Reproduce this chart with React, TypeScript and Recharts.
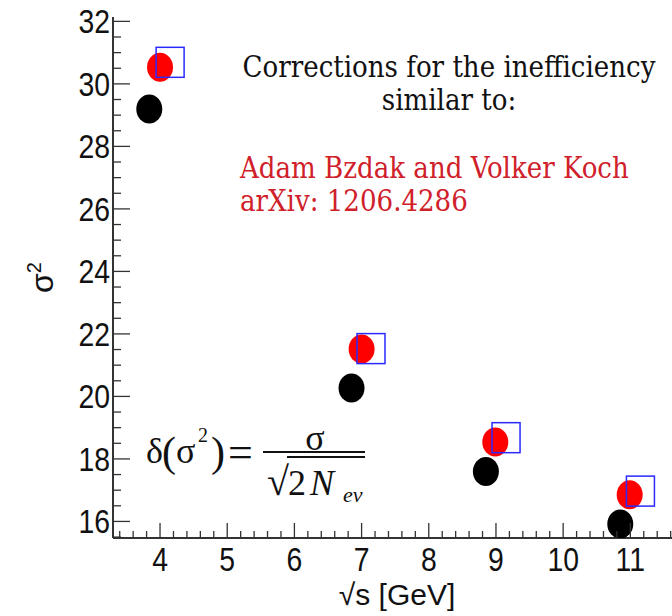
import { Scatter, ScatterChart, XAxis, YAxis } from 'recharts'

// sqrt(s) positions (slightly shifted per series, as in the plot)
const blackX = [3.84, 6.85, 8.85, 10.85]
const blackY = [29.2, 20.27, 17.6, 15.92]
const redX = [4.0, 7.0, 8.99, 10.99]
const redY = [30.53, 21.52, 18.54, 16.85]
const blueX = [4.15, 7.14, 9.15, 11.15]
const blueY = [30.69, 21.53, 18.68, 16.97]

const xMajor = [4, 5, 6, 7, 8, 9, 10, 11]
const yMajor = [16, 18, 20, 22, 24, 26, 28, 30, 32]

const X_DOMAIN: [number, number] = [3.3, 11.62]
const Y_DOMAIN: [number, number] = [15.47, 32.14]

const AXIS = '#333'
const SANS = "'Liberation Sans', Arial, sans-serif"
const SERIF_C = "'DejaVu Serif Condensed', 'DejaVu Serif', serif"
const TIMES = "'Liberation Serif', 'Times New Roman', serif"

const toPts = (xs: number[], ys: number[]) => xs.map((x, i) => ({ x, y: ys[i] }))
const black = toPts(blackX, blackY)
const red = toPts(redX, redY)
const blue = toPts(blueX, blueY)

const steps = (from: number, to: number, step: number) => {
  const out: number[] = []
  for (let v = from; v <= to + 1e-9; v += step) out.push(Math.round(v * 10) / 10)
  return out
}
const xTicks = steps(3.4, 11.6, 0.2)
const yTicks = steps(15.5, 32, 0.5)

const isMajor = (list: number[], v: number) => list.some((m) => Math.abs(m - v) < 1e-6)

function XTick(props: any) {
  const { x, y, payload } = props
  const major = isMajor(xMajor, payload.value)
  return (
    <g>
      <line x1={x} x2={x} y1={y} y2={y - (major ? 15 : 7)} stroke={AXIS} strokeWidth={1.3} />
      {major && (
        <text
          transform={`translate(${x},${y + 33}) scale(0.86,1)`}
          textAnchor="middle"
          fontFamily={SANS}
          fontSize={33}
          fill="#111"
        >
          {payload.value}
        </text>
      )}
    </g>
  )
}

function YTick(props: any) {
  const { x, y, payload } = props
  const major = isMajor(yMajor, payload.value)
  return (
    <g>
      <line x1={x} x2={x + (major ? 17 : 8)} y1={y} y2={y} stroke={AXIS} strokeWidth={1.3} />
      {major && (
        <text
          transform={`translate(${x - 3},${y + 12}) scale(0.86,1)`}
          textAnchor="end"
          fontFamily={SANS}
          fontSize={33}
          fill="#111"
        >
          {payload.value}
        </text>
      )}
    </g>
  )
}

const dot = (fill: string) => (p: any) => <ellipse cx={p.cx} cy={p.cy} rx={13} ry={14.5} fill={fill} />
const box = (p: any) => (
  <rect x={p.cx - 14} y={p.cy - 15} width={28} height={30} fill="none" stroke="#2a2aff" strokeWidth={1.5} />
)

export default function App() {
  return (
    <div style={{ position: 'absolute', left: 0, top: 0, width: 672, height: 616, background: '#fff' }}>
      <ScatterChart width={672} height={616} margin={{ top: 17, right: 0, bottom: 0, left: 0 }}>
        <XAxis
          xAxisId="b"
          type="number"
          dataKey="x"
          domain={X_DOMAIN}
          ticks={xTicks}
          interval={0}
          allowDataOverflow
          height={78}
          tickSize={0}
          tickMargin={0}
          tickLine={false}
          tick={<XTick />}
          axisLine={{ stroke: AXIS, strokeWidth: 2 }}
        />
        <XAxis
          xAxisId="t"
          orientation="top"
          type="number"
          dataKey="x"
          domain={X_DOMAIN}
          allowDataOverflow
          height={0}
          tick={false}
          tickLine={false}
          axisLine={{ stroke: AXIS, strokeWidth: 2 }}
        />
        <YAxis
          type="number"
          dataKey="y"
          domain={Y_DOMAIN}
          ticks={yTicks}
          interval={0}
          allowDataOverflow
          width={113}
          tickSize={0}
          tickMargin={0}
          tickLine={false}
          tick={<YTick />}
          axisLine={{ stroke: AXIS, strokeWidth: 2 }}
        />
        <Scatter xAxisId="b" data={black} shape={dot('#000')} isAnimationActive={false} />
        <Scatter xAxisId="b" data={red} shape={dot('#ff0000')} isAnimationActive={false} />
        <Scatter xAxisId="b" data={blue} shape={box} isAnimationActive={false} />
      </ScatterChart>

      <svg
        width={672}
        height={616}
        style={{ position: 'absolute', left: 0, top: 0, pointerEvents: 'none' }}
      >
        <g fontFamily={SERIF_C} fontSize={29} style={{ fontStretch: 'condensed' }}>
          <text x={449} y={77} textAnchor="middle" fill="#111">Corrections for the inefficiency</text>
          <text x={449} y={110} textAnchor="middle" fill="#111">similar to:</text>
          <text x={240} y={178} fill="#d0202a">Adam Bzdak and Volker Koch</text>
          <text x={240} y={211} fill="#d0202a">arXiv: 1206.4286</text>
        </g>

        <g fontFamily={TIMES} fill="#111">
          <text x={146} y={463} fontSize={36}>δ</text>
          <text x={162} y={466} fontSize={42}>(</text>
          <text x={176} y={463} fontSize={36}>σ</text>
          <text x={198} y={442} fontSize={20}>2</text>
          <text x={211} y={466} fontSize={42}>)</text>
          <text x={228} y={467} fontSize={44}>=</text>
          <line x1={263} x2={365} y1={452} y2={452} stroke="#111" strokeWidth={2} />
          <text x={315} y={450} fontSize={36} textAnchor="middle">σ</text>
          <text x={267} y={495} fontSize={40}>√</text>
          <line x1={287} x2={365} y1={457} y2={457} stroke="#111" strokeWidth={2} />
          <text x={288} y={495} fontSize={36}>2</text>
          <text x={310} y={495} fontSize={36} fontStyle="italic">N</text>
          <text x={343} y={502} fontSize={22} fontStyle="italic">ev</text>
        </g>

        <text transform="translate(53,293) rotate(-90)" fontFamily={SANS} fontSize={32} fill="#111">
          σ<tspan dy={-12} fontSize={20}>2</tspan>
        </text>
        <text x={397} y={605} textAnchor="middle" fontFamily={SANS} fontSize={30} fill="#111">
          √s [GeV]
        </text>
      </svg>
    </div>
  )
}
